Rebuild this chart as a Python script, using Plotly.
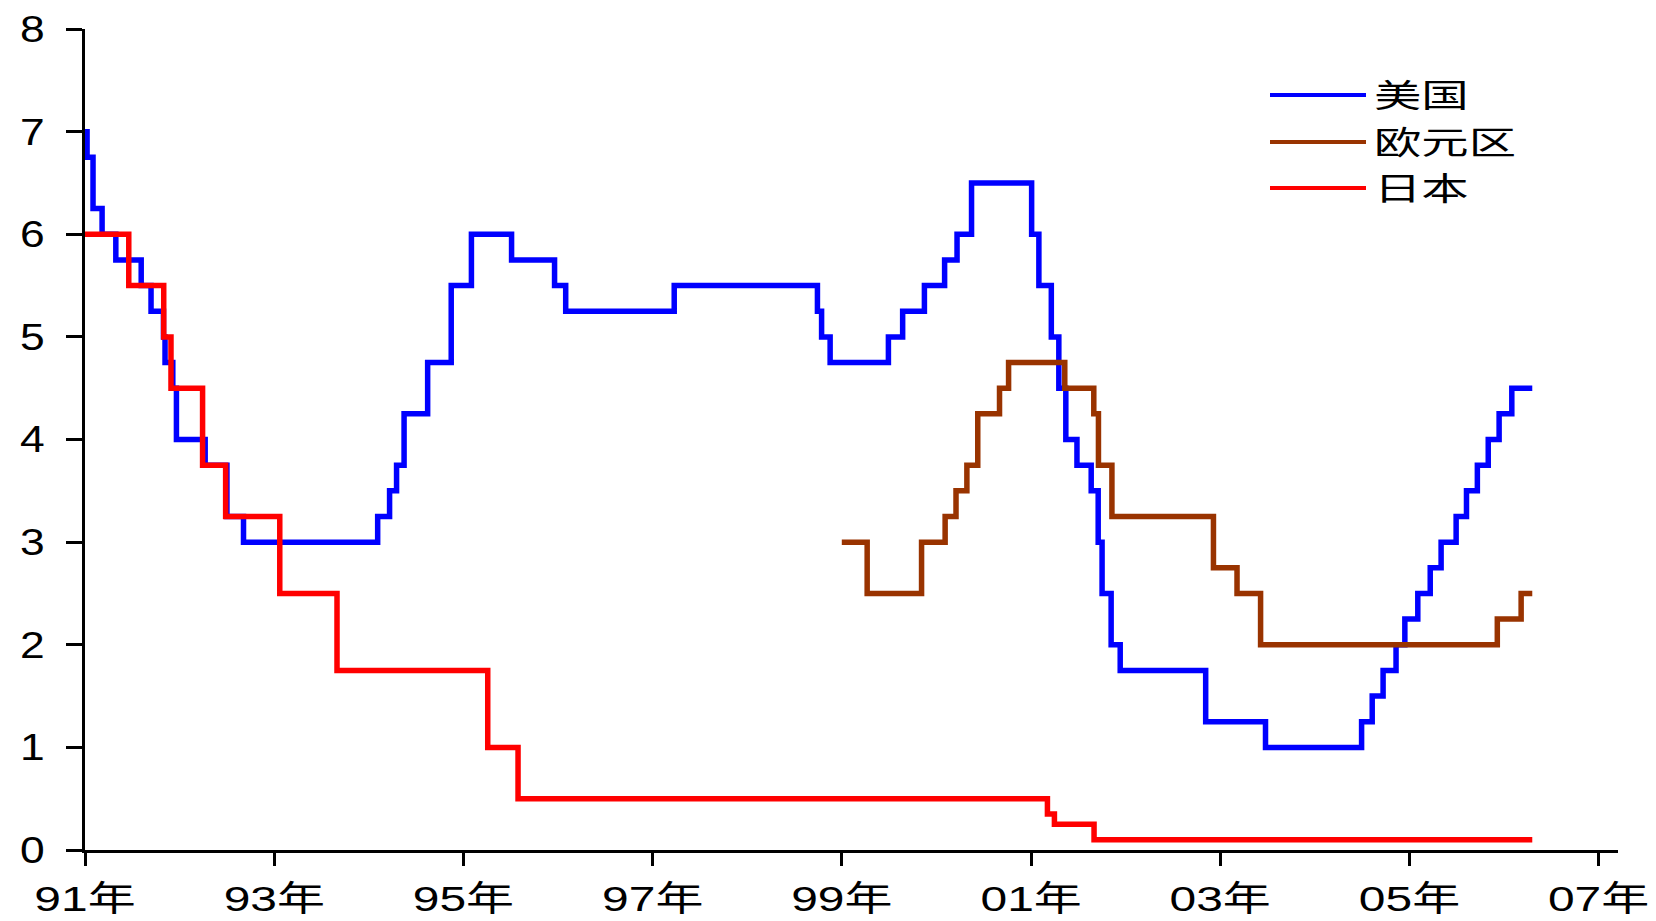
import plotly.graph_objects as go

# Policy rate series (percent), step changes by effective date
series_names = ["美国", "欧元区", "日本"]
series_colors = ["#0000FF", "#993300", "#FF0000"]

us_dates = [
    "1991-01-01", "1991-01-09", "1991-02-01", "1991-03-08", "1991-04-30", "1991-08-06",
    "1991-09-13", "1991-10-31", "1991-11-06", "1991-12-06", "1991-12-20", "1992-04-09",
    "1992-07-02", "1992-09-04", "1994-02-04", "1994-03-22", "1994-04-18", "1994-05-17",
    "1994-08-16", "1994-11-15", "1995-02-01", "1995-07-06", "1995-12-19", "1996-01-31",
    "1997-03-25", "1998-09-29", "1998-10-15", "1998-11-17", "1999-06-30", "1999-08-24",
    "1999-11-16", "2000-02-02", "2000-03-21", "2000-05-16", "2001-01-03", "2001-01-31",
    "2001-03-20", "2001-04-18", "2001-05-15", "2001-06-27", "2001-08-21", "2001-09-17",
    "2001-10-02", "2001-11-06", "2001-12-11", "2002-11-06", "2003-06-25", "2004-06-30",
    "2004-08-10", "2004-09-21", "2004-11-10", "2004-12-14", "2005-02-02", "2005-03-22",
    "2005-05-03", "2005-06-30", "2005-08-09", "2005-09-20", "2005-11-01", "2005-12-13",
    "2006-01-31", "2006-04-20",
]
us_rates = [
    7.00, 6.75, 6.25, 6.00, 5.75, 5.50,
    5.25, 5.00, 4.75, 4.50, 4.00, 3.75,
    3.25, 3.00, 3.25, 3.50, 3.75, 4.25,
    4.75, 5.50, 6.00, 5.75, 5.50, 5.25,
    5.50, 5.25, 5.00, 4.75, 5.00, 5.25,
    5.50, 5.75, 6.00, 6.50, 6.00, 5.50,
    5.00, 4.50, 4.00, 3.75, 3.50, 3.00,
    2.50, 2.00, 1.75, 1.25, 1.00, 1.25,
    1.50, 1.75, 2.00, 2.25, 2.50, 2.75,
    3.00, 3.25, 3.50, 3.75, 4.00, 4.25,
    4.50, 4.50,
]

ez_dates = [
    "1999-01-01", "1999-04-09", "1999-11-05", "2000-02-04", "2000-03-17", "2000-04-28",
    "2000-06-09", "2000-09-01", "2000-10-06", "2001-05-11", "2001-08-31", "2001-09-18",
    "2001-11-09", "2002-12-06", "2003-03-07", "2003-06-06", "2005-12-06", "2006-03-08",
    "2006-04-20",
]
ez_rates = [
    3.00, 2.50, 3.00, 3.25, 3.50, 3.75,
    4.25, 4.50, 4.75, 4.50, 4.25, 3.75,
    3.25, 2.75, 2.50, 2.00, 2.25, 2.50,
    2.50,
]

jp_dates = [
    "1991-01-01", "1991-06-19", "1991-11-01", "1991-11-29", "1992-03-30", "1992-06-27",
    "1993-01-22", "1993-08-31", "1995-04-05", "1995-07-31", "2001-03-05", "2001-04-01",
    "2001-09-01", "2006-04-20",
]
jp_rates = [
    6.00, 5.50, 5.00, 4.50, 3.75, 3.25,
    2.50, 1.75, 1.00, 0.50, 0.35, 0.25,
    0.10, 0.10,
]

x_tick_dates = ["1991-01-01", "1993-01-01", "1995-01-01", "1997-01-01",
                "1999-01-01", "2001-01-01", "2003-01-01", "2005-01-01", "2007-01-01"]
x_tick_labels = ["91年", "93年", "95年", "97年", "99年", "01年", "03年", "05年", "07年"]
y_tick_values = [0, 1, 2, 3, 4, 5, 6, 7, 8]

assert len(us_dates) == len(us_rates)
assert len(ez_dates) == len(ez_rates)
assert len(jp_dates) == len(jp_rates)

W, H = 1656, 921
L, R, T, B = 85, 38, 29, 71
plot_w = W - L - R
plot_h = H - T - B

fig = go.Figure()
for name, color, xs, ys in zip(series_names, series_colors,
                               [us_dates, ez_dates, jp_dates],
                               [us_rates, ez_rates, jp_rates]):
    fig.add_trace(go.Scatter(
        x=xs, y=ys, name=name, mode="lines",
        line=dict(color=color, width=5.5, shape="hv"),
        showlegend=False,
    ))

# Legend drawn as line samples with text labels to the right
def px_x(px):
    return (px - L) / plot_w

def px_y(py):
    return (H - B - py) / plot_h

legend_rows_y = [95, 142, 188]
shapes = []
annotations = []
for name, color, ly in zip(series_names, series_colors, legend_rows_y):
    shapes.append(dict(
        type="line", xref="paper", yref="paper",
        x0=px_x(1270), x1=px_x(1366), y0=px_y(ly), y1=px_y(ly),
        line=dict(color=color, width=4),
    ))
    annotations.append(dict(
        xref="paper", yref="paper", x=px_x(1372), y=px_y(ly - 2),
        xanchor="left", yanchor="middle", text=name, showarrow=False,
        font=dict(family="Noto Sans CJK SC", size=32, color="#000000"),
    ))

x_tick_font = dict(family="Liberation Sans, Noto Sans CJK SC", size=35, color="#000000")
y_tick_font = dict(family="Liberation Sans, Noto Sans CJK SC", size=37, color="#000000")

fig.update_layout(
    width=W, height=H,
    margin=dict(l=L, r=R, t=T, b=B, pad=0),
    paper_bgcolor="#FFFFFF", plot_bgcolor="#FFFFFF",
    shapes=shapes, annotations=annotations,
    xaxis=dict(
        type="date", range=["1991-01-01", "2007-03-17"],
        tickmode="array", tickvals=x_tick_dates, ticktext=x_tick_labels,
        showline=True, linecolor="#000000", linewidth=3,
        ticks="outside", ticklen=13, tickwidth=3, tickcolor="#000000",
        showgrid=False, zeroline=False, tickfont=x_tick_font,
        ticklabelstandoff=3, automargin=False,
    ),
    yaxis=dict(
        range=[0, 8], tickmode="array", tickvals=y_tick_values,
        showline=True, linecolor="#000000", linewidth=3,
        ticks="outside", ticklen=16, tickwidth=3, tickcolor="#000000",
        showgrid=False, zeroline=False, tickfont=y_tick_font,
        ticklabelstandoff=14, automargin=False,
    ),
)

# Widen the lettering horizontally (wide-set glyphs), keeping each label's anchor edge fixed
widen_text_js = """
var gd = document.getElementById('{plot_id}');
function widen(sel, s, mode) {
  gd.querySelectorAll(sel).forEach(function (t) {
    var bb = t.getBBox();
    var ax = mode === 'right' ? bb.x + bb.width : (mode === 'center' ? bb.x + bb.width / 2 : bb.x);
    var tr = t.getAttribute('transform') || '';
    t.setAttribute('transform', tr + ' translate(' + ax + ',0) scale(' + s + ',1) translate(' + (-ax) + ',0)');
  });
}
widen('.xtick text', 1.37, 'center');
widen('.ytick text', 1.2, 'right');
widen('.annotation-text', 1.48, 'left');
"""

fig.write_html("out.html", post_script=widen_text_js)
